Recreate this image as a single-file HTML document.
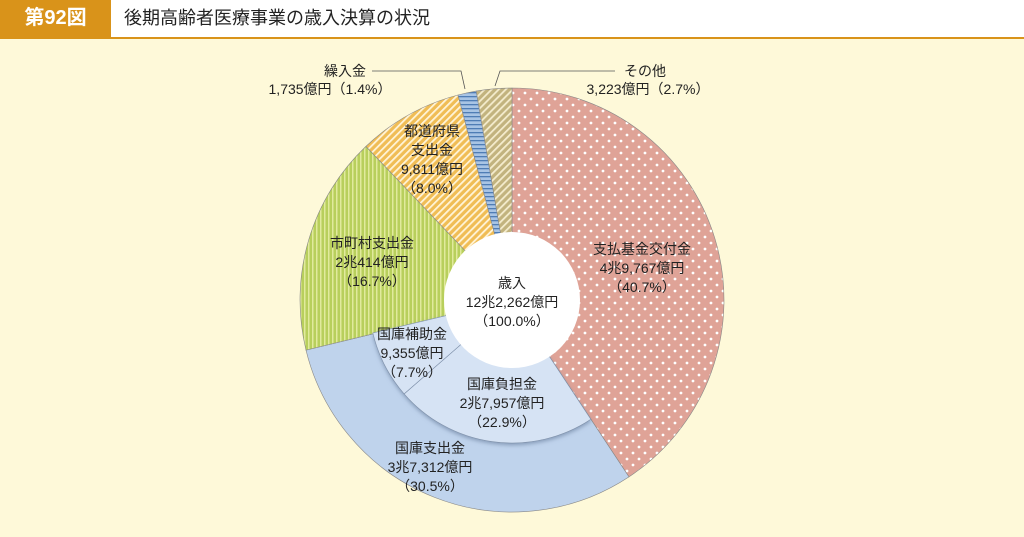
<!DOCTYPE html>
<html><head><meta charset="utf-8">
<style>
body{margin:0;width:1024px;height:537px;overflow:hidden;background:#fef9d9;font-family:"Liberation Sans","Noto Sans CJK JP",sans-serif;}
#hdr{position:absolute;left:0;top:0;width:1024px;height:37px;background:#fff;border-bottom:2px solid #d9931a;}
#badge{position:absolute;left:0;top:0;width:111px;height:37px;background:#d9931a;color:#fff;font-size:20px;font-weight:bold;line-height:37px;text-align:center;}
#title{position:absolute;left:124px;top:0;line-height:37px;font-size:18px;color:#222;}
svg{position:absolute;left:0;top:0;}
svg text{font-family:"Liberation Sans","Noto Sans CJK JP",sans-serif;font-size:14px;fill:#222;text-anchor:middle;}
</style></head><body>
<div id="hdr">
<div id="badge">第92図</div>
<div id="title">後期高齢者医療事業の歳入決算の状況</div>
</div>
<svg id="chart" width="1024" height="537">
<defs>
<pattern id="pDots" width="12" height="12" patternUnits="userSpaceOnUse"><rect width="12" height="12" fill="#dfa397"/><circle cx="3" cy="3" r="1.4" fill="#fff"/><circle cx="9" cy="9" r="1.4" fill="#fff"/></pattern>
<pattern id="pGreen" width="4" height="4" patternUnits="userSpaceOnUse"><rect width="4" height="4" fill="#b8cf5c"/><rect width="1.5" height="4" fill="#e1ea9d"/></pattern>
<pattern id="pOrange" width="5" height="5" patternUnits="userSpaceOnUse" patternTransform="rotate(45)"><rect width="5" height="5" fill="#f0bd55"/><rect width="1.8" height="5" fill="#fff4d8"/></pattern>
<pattern id="pBlue" width="4" height="4" patternUnits="userSpaceOnUse"><rect width="4" height="4" fill="#a8c4e4"/><rect width="4" height="1.3" fill="#4f7db5"/></pattern>
<pattern id="pKhaki" width="5" height="5" patternUnits="userSpaceOnUse" patternTransform="rotate(45)"><rect width="5" height="5" fill="#c2b37e"/><rect width="1.8" height="5" fill="#f4eccd"/></pattern>
<filter id="sh"><feDropShadow dx="0" dy="2" stdDeviation="2" flood-color="#5a7090" flood-opacity="0.6"/></filter>
</defs>
<g id="outer"></g><g id="inner"></g>
<circle cx="512" cy="300" r="68" fill="#fff"/>
<g id="labels"></g>
<polyline points="372,71 461,71 465,89" fill="none" stroke="#555" stroke-width="0.8"/>
<polyline points="615,71 500,71 495,86" fill="none" stroke="#555" stroke-width="0.8"/>
</svg>
<script>
const categories=["支払基金交付金","国庫支出金","市町村支出金","都道府県支出金","繰入金","その他"];
const values=[40.7,30.5,16.7,8.0,1.4,2.7];
const fills=["url(#pDots)","#bfd3ec","url(#pGreen)","url(#pOrange)","url(#pBlue)","url(#pKhaki)"];
const innerCategories=["国庫負担金","国庫補助金"];
const innerValues=[22.9,7.7];
const amounts=["4兆9,767億円","3兆7,312億円","2兆414億円","9,811億円","1,735億円","3,223億円"];
const innerAmounts=["2兆7,957億円","9,355億円"];
const CX=512,CY=300,R=212,RI=143;
const total=values.reduce((a,b)=>a+b,0);
function pt(a,r){const t=a/total*2*Math.PI;return [CX+r*Math.sin(t),CY-r*Math.cos(t)];}
function arc(a0,a1,r){const p0=pt(a0,r),p1=pt(a1,r);const lg=(a1-a0)/total>0.5?1:0;
return `M${CX},${CY}L${p0[0]},${p0[1]}A${r},${r} 0 ${lg} 1 ${p1[0]},${p1[1]}Z`;}
const NS="http://www.w3.org/2000/svg";
const og=document.getElementById('outer');
let acc=0;const starts=[];
values.forEach((v,i)=>{starts.push(acc);
const p=document.createElementNS(NS,'path');
p.setAttribute('d',arc(acc,acc+v,R));p.setAttribute('fill',fills[i]);p.setAttribute('stroke','#888');p.setAttribute('stroke-width','0.6');


og.appendChild(p);acc+=v;});
const ig=document.getElementById('inner');
let ia=starts[1];
const bg=document.createElementNS(NS,'path');
bg.setAttribute('d',arc(ia,ia+innerValues.reduce((a,b)=>a+b,0),RI));bg.setAttribute('fill','#d6e3f4');bg.setAttribute('filter','url(#sh)');


ig.appendChild(bg);
innerValues.forEach((v,i)=>{const p=document.createElementNS(NS,'path');
p.setAttribute('d',arc(ia,ia+v,RI));p.setAttribute('fill','#d6e3f4');p.setAttribute('stroke','#7d8fa8');p.setAttribute('stroke-width','0.6');


ig.appendChild(p);ia+=v;});
const lg=document.getElementById('labels');
function label(lines,x,y,name){const t=document.createElementNS(NS,'text');


lines.forEach((s,k)=>{const ts=document.createElementNS(NS,'tspan');ts.setAttribute('x',x);ts.setAttribute('y',y+k*19);ts.textContent=s;t.appendChild(ts);});lg.appendChild(t);}
const pct=v=>'（'+v.toFixed(1)+'%）';
label([categories[0],amounts[0],pct(values[0])],642,254,'label-shiharai');
label([categories[1],amounts[1],pct(values[1])],430,453,'label-kokko');
label(["市町村支出金",amounts[2],pct(values[2])],372,248,'label-shichoson');
label(["都道府県","支出金",amounts[3],pct(values[3])],432,136,'label-todofuken');
label([innerCategories[0],innerAmounts[0],pct(innerValues[0])],502,389,'label-futankin');
label([innerCategories[1],innerAmounts[1],pct(innerValues[1])],412,339,'label-hojokin');
label(["歳入","12兆2,262億円","（100.0%）"],512,288,'label-total');
label([categories[4]],345,76,'label-kuriire');
label([amounts[4]+pct(values[4])],330,94,'label-kuriire-amount');
label([categories[5]],645,76,'label-other');
label([amounts[5]+pct(values[5])],648,94,'label-other-amount');
</script>
</body></html>
